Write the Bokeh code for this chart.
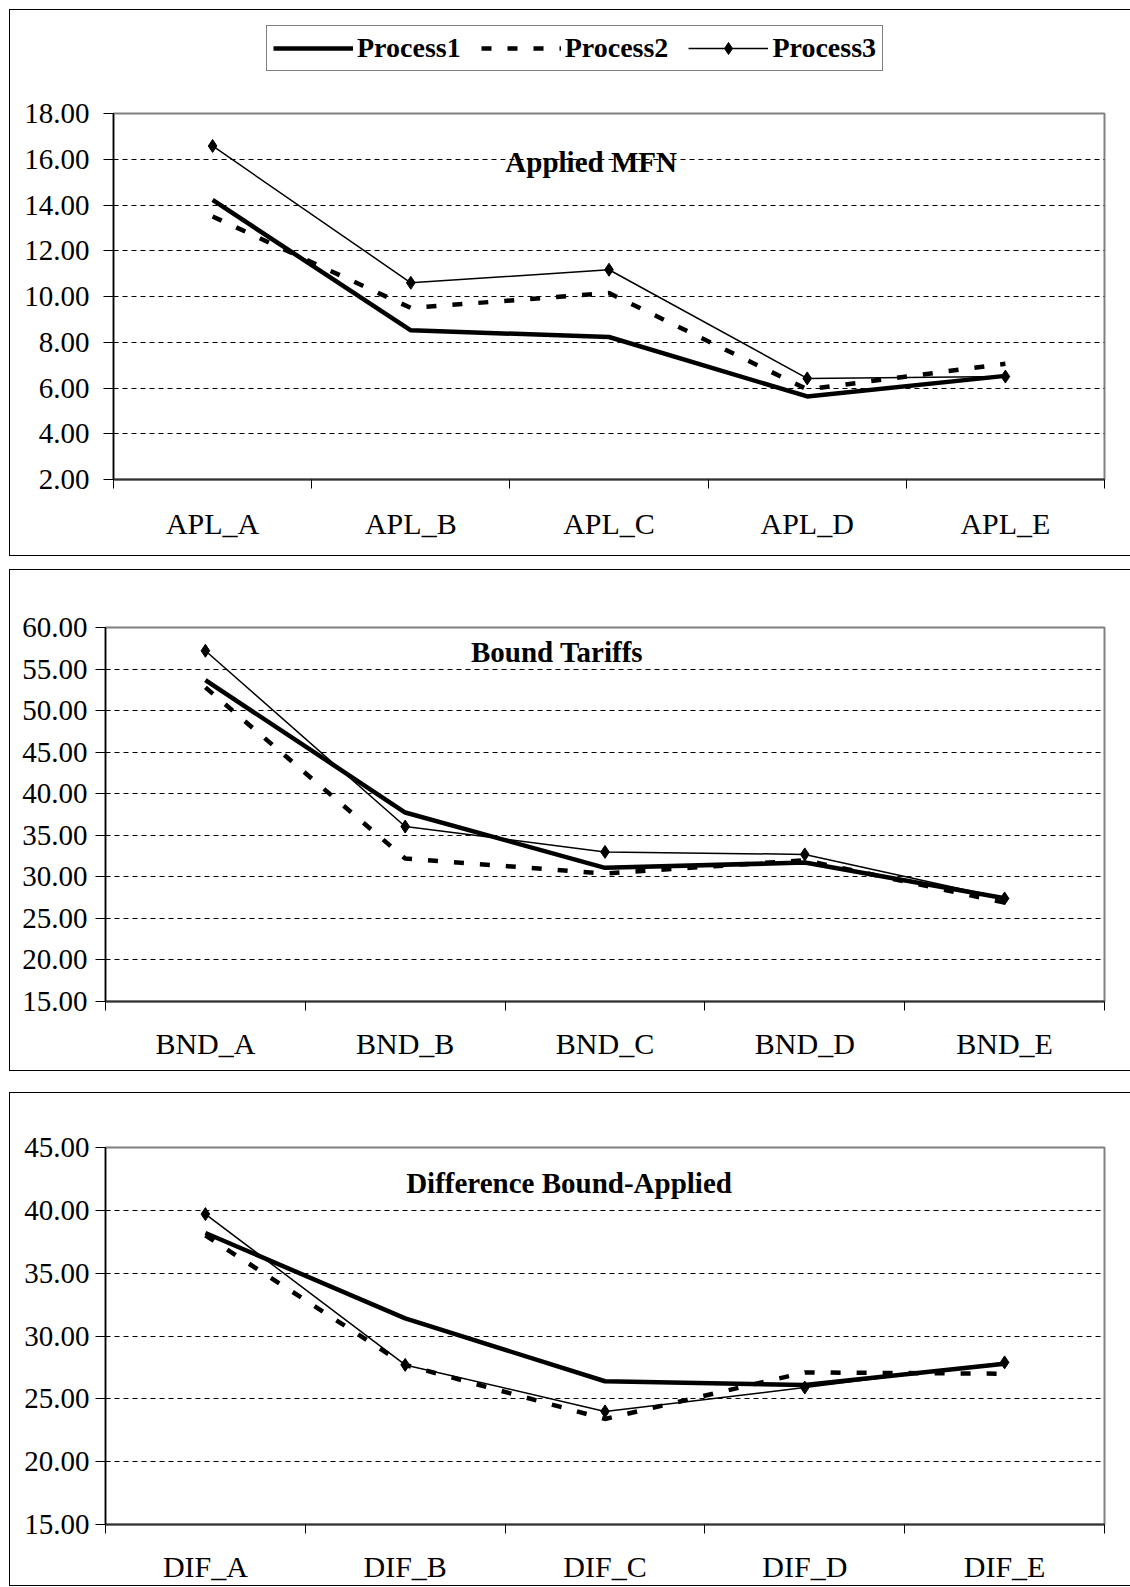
from bokeh.plotting import figure
from bokeh.models import (Range1d, FixedTicker, NumeralTickFormatter, Legend,
                          LegendItem, Label, Spacer)
from bokeh.layouts import column, row
from bokeh.embed import file_html
from bokeh.resources import INLINE

FONT = "Liberation Serif"

series_names = ["Process1", "Process2", "Process3"]

apl_title = "Applied MFN"
apl_categories = ["APL_A", "APL_B", "APL_C", "APL_D", "APL_E"]
apl_process1 = [14.22, 8.52, 8.23, 5.63, 6.53]
apl_process2 = [13.50, 9.50, 10.15, 5.94, 7.06]
apl_process3 = [16.58, 10.60, 11.17, 6.42, 6.50]
apl_ticks = [2, 4, 6, 8, 10, 12, 14, 16, 18]

bnd_title = "Bound Tariffs"
bnd_categories = ["BND_A", "BND_B", "BND_C", "BND_D", "BND_E"]
bnd_process1 = [53.66, 37.74, 31.08, 31.72, 27.43]
bnd_process2 = [52.80, 32.20, 30.40, 32.00, 26.90]
bnd_process3 = [57.20, 36.05, 33.00, 32.70, 27.40]
bnd_ticks = [15, 20, 25, 30, 35, 40, 45, 50, 55, 60]

dif_title = "Difference Bound-Applied"
dif_categories = ["DIF_A", "DIF_B", "DIF_C", "DIF_D", "DIF_E"]
dif_process1 = [38.20, 31.40, 26.40, 26.10, 27.80]
dif_process2 = [38.00, 27.70, 23.40, 27.10, 27.00]
dif_process3 = [39.70, 27.70, 24.00, 25.90, 27.90]
dif_ticks = [15, 20, 25, 30, 35, 40, 45]

BOX = {"outline": "1px solid black", "outline-offset": "0px"}

P1_STYLE = dict(line_color="black", line_width=4.5)
P2_STYLE = dict(line_color="black", line_width=4.5, line_dash="10 16")
P3_STYLE = dict(line_color="black", line_width=1.5)
P3_MARK = dict(marker="diamond", size=13, fill_color="black", line_color="black")


def make_panel(title, cats, s1, s2, s3, ticks, height, borders, title_xy,
               x_standoff, y_standoff, styles=None):
    n = len(cats)
    xs = [i + 0.5 for i in range(n)]
    left, right, top, bottom = borders
    kw = {}
    if styles is not None:
        kw["styles"] = styles
    p = figure(width=1120, height=height, output_backend="svg",
               toolbar_location=None, x_range=Range1d(0, n),
               y_range=Range1d(ticks[0], ticks[-1]),
               min_border_left=left, min_border_right=right,
               min_border_top=top, min_border_bottom=bottom,
               background_fill_color="white", border_fill_color="white", **kw)
    p.outline_line_color = "#808080"
    p.outline_line_width = 2

    # x axis: labels at category centres, tick marks at category boundaries
    xa = p.xaxis[0]
    xa.ticker = FixedTicker(ticks=xs, minor_ticks=list(range(n + 1)))
    xa.major_label_overrides = {x: c for x, c in zip(xs, cats)}
    xa.major_tick_out = 0
    xa.major_tick_in = 0
    xa.minor_tick_out = 9
    xa.minor_tick_in = 0
    xa.minor_tick_line_color = "black"
    xa.minor_tick_line_width = 1
    xa.axis_line_color = "#333333"
    xa.axis_line_width = 2
    xa.major_label_text_font = FONT
    xa.major_label_text_font_size = "30px"
    xa.major_label_text_color = "black"
    xa.major_label_standoff = x_standoff

    ya = p.yaxis[0]
    ya.ticker = FixedTicker(ticks=ticks)
    ya.formatter = NumeralTickFormatter(format="0.00")
    ya.major_tick_out = 10
    ya.major_tick_in = 0
    ya.minor_tick_line_color = None
    ya.major_tick_line_color = "black"
    ya.axis_line_color = "black"
    ya.axis_line_width = 1.5
    ya.major_label_text_font = FONT
    ya.major_label_text_font_size = "29px"
    ya.major_label_text_color = "black"
    ya.major_label_standoff = y_standoff

    p.xgrid.grid_line_color = None
    p.ygrid.grid_line_color = "black"
    p.ygrid.grid_line_width = 1
    p.ygrid.grid_line_dash = "5 4"

    p.line(xs, s1, **P1_STYLE)
    p.line(xs, s2, **P2_STYLE)
    p.line(xs, s3, **P3_STYLE)
    p.scatter(xs, s3, **P3_MARK)

    p.add_layout(Label(x=title_xy[0], y=title_xy[1], text=title,
                       text_align="center", text_baseline="middle",
                       text_font=FONT, text_font_style="bold",
                       text_font_size="29px", text_color="black"))
    return p


def make_legend_strip(height, loc, cats, s1, s2, s3):
    # legend-only strip; the series are drawn outside its (empty) y range,
    # so only the legend shows
    xs = [i + 0.5 for i in range(len(cats))]
    lf = figure(width=1120, height=height, output_backend="svg",
                toolbar_location=None, x_range=Range1d(0, len(cats)),
                y_range=Range1d(-2, -1), x_axis_location=None,
                y_axis_location=None, min_border=0,
                min_border_left=0, min_border_right=0,
                min_border_top=0, min_border_bottom=0,
                background_fill_color="white", border_fill_color="white")
    lf.outline_line_color = None
    lf.xgrid.grid_line_color = None
    lf.ygrid.grid_line_color = None
    r1 = lf.line(xs, s1, **P1_STYLE)
    r2 = lf.line(xs, s2, **P2_STYLE)
    r3 = lf.line(xs, s3, **P3_STYLE)
    r3m = lf.scatter(xs, s3, **P3_MARK)
    legend = Legend(items=[
        LegendItem(label=series_names[0], renderers=[r1]),
        LegendItem(label=series_names[1], renderers=[r2]),
        LegendItem(label=series_names[2], renderers=[r3, r3m]),
    ], location=loc, orientation="horizontal")
    legend.label_text_font = FONT
    legend.label_text_font_style = "bold"
    legend.label_text_font_size = "28px"
    legend.label_text_color = "black"
    legend.glyph_width = 80
    legend.glyph_height = 30
    legend.label_standoff = 4
    legend.spacing = 20
    legend.padding = 6
    legend.margin = 0
    legend.border_line_color = "black"
    legend.border_line_width = 1
    legend.background_fill_color = "white"
    legend.background_fill_alpha = 1
    lf.add_layout(legend)
    return lf


legend_strip = make_legend_strip(80, (153, 19), apl_categories, apl_process1,
                                 apl_process2, apl_process3)
p1 = make_panel(apl_title, apl_categories, apl_process1, apl_process2,
                apl_process3, apl_ticks, 465, (103, 26, 23, 76),
                (2.41, 15.9), 18, 14)
panel1 = column(legend_strip, p1, spacing=0, styles=BOX)

p2 = make_panel(bnd_title, bnd_categories, bnd_process1, bnd_process2,
                bnd_process3, bnd_ticks, 500, (95, 26, 57, 69),
                (2.26, 57.1), 16, 8, styles=BOX)
p3 = make_panel(dif_title, dif_categories, dif_process1, dif_process2,
                dif_process3, dif_ticks, 492, (93, 26, 54, 61),
                (2.32, 42.2), 16, 6, styles=BOX)

stack = column(Spacer(height=10), panel1, Spacer(height=15), p2,
               Spacer(height=23), p3, spacing=0)
layout = row(Spacer(width=10), stack, spacing=0)

open("out.html", "w").write(file_html(layout, INLINE))
